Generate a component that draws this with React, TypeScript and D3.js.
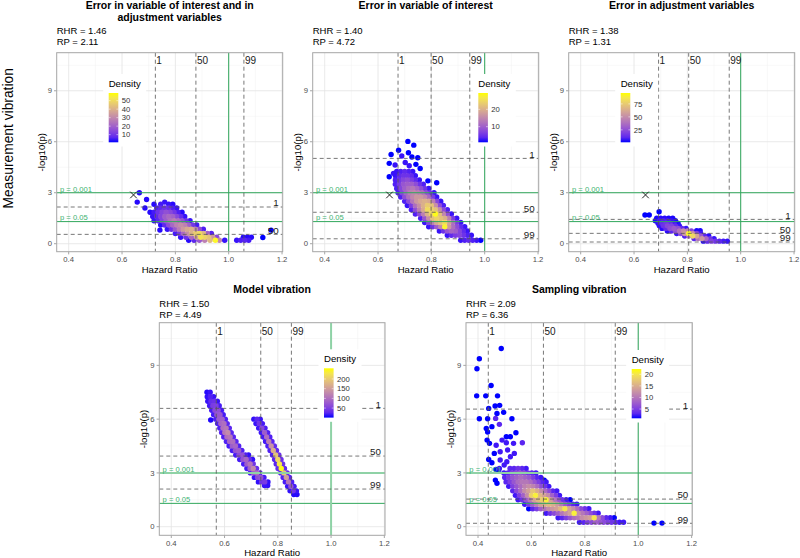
import * as d3 from "d3";

const FONT = "'Liberation Sans', Arial, Helvetica, sans-serif";

// ---- chart data ----
const panelTitles = [
  ["Error in variable of interest and in", "adjustment variables"],
  ["Error in variable of interest"],
  ["Error in adjustment variables"],
  ["Model vibration"],
  ["Sampling vibration"],
];
const rhrValues = ["1.46", "1.40", "1.38", "1.50", "2.09"];
const rpValues = ["2.11", "4.72", "1.31", "4.49", "6.36"];
const rowLabel = "Measurement vibration";

const xTicks = [0.4, 0.6, 0.8, 1.0, 1.2];
const xMinor = [0.5, 0.7, 0.9, 1.1];
const yTicks = [0, 3, 6, 9];
const yMinor = [1.5, 4.5, 7.5, 10.5];

const percentileNames = ["1", "50", "99"];
// hazard-ratio percentiles (vertical dashed lines)
const hrPercentiles = [
  [0.725, 0.877, 1.057],
  [0.675, 0.799, 0.944],
  [0.692, 0.805, 0.957],
  [0.569, 0.736, 0.851],
  [0.4385, 0.645, 0.914],
];
// -log10(p) percentiles (horizontal dashed lines)
const pPercentiles: (number | null)[][] = [
  [2.16, 0.55, null],
  [5.02, 1.85, 0.29],
  [1.43, 0.61, 0.1],
  [6.6, 3.94, 2.1],
  [6.56, 1.54, 0.19],
];
const pThresholds = [0.001, 0.05];
const originalEstimate = [0.643, 2.87]; // the "x" in the measurement panels

const densityMax = [59, 29.4, 96, 255, 22.3];
const legendTicks = [
  [10, 20, 30, 40, 50],
  [10, 20],
  [25, 50, 75],
  [50, 100, 150, 200],
  [5, 10, 15, 20],
];

// rows of points: [ -log10(p), hazard ratios, densities ]
type Row = [number, number[], number[]];

const pointsMeasBoth: Row[] = [
  [3.0, [0.665], [2]],
  [2.6, [0.692], [2]],
  [2.45, [0.657, 0.76], [2, 3]],
  [2.32, [0.72, 0.745, 0.775, 0.79], [2, 4, 3, 2]],
  [2.1, [0.686, 0.73, 0.745, 0.76, 0.775, 0.79, 0.805], [2, 5, 7, 9, 8, 5, 3]],
  [1.85, [0.705, 0.72, 0.735, 0.75, 0.765, 0.78, 0.795, 0.81, 0.825], [2, 4, 9, 13, 16, 14, 10, 5, 2]],
  [1.6, [0.715, 0.73, 0.745, 0.76, 0.775, 0.79, 0.805, 0.82, 0.835], [3, 7, 13, 19, 22, 20, 14, 8, 3]],
  [1.35, [0.72, 0.735, 0.75, 0.765, 0.78, 0.795, 0.81, 0.825, 0.84, 0.855], [3, 7, 13, 19, 24, 27, 23, 17, 9, 3]],
  [1.1, [0.745, 0.76, 0.775, 0.79, 0.805, 0.82, 0.835, 0.85, 0.865, 0.88], [2, 7, 15, 22, 28, 31, 28, 20, 10, 4]],
  [0.85, [0.77, 0.785, 0.8, 0.815, 0.83, 0.845, 0.86, 0.875, 0.89, 0.905], [3, 9, 18, 27, 34, 38, 40, 30, 15, 5]],
  [0.8, [0.742], [2]],
  [0.6, [0.8, 0.815, 0.83, 0.845, 0.86, 0.875, 0.89, 0.905, 0.92, 0.935], [4, 11, 22, 31, 40, 46, 50, 42, 20, 6]],
  [0.38, [0.82, 0.84, 0.86, 0.88, 0.895, 0.91, 0.925, 0.94, 0.955], [3, 9, 22, 36, 52, 48, 44, 34, 14]],
  [0.2, [0.85, 0.87, 0.89, 0.91, 0.93, 0.95, 0.965, 0.985], [2, 7, 18, 28, 42, 57, 30, 3]],
  [0.2, [1.03, 1.045, 1.06, 1.075], [3, 5, 6, 4]],
  [0.38, [1.055, 1.07, 1.085], [2, 2, 2]],
  [0.37, [1.128], [1]],
  [0.8, [1.159], [1]],
];

const pointsMeasInterest: Row[] = [
  [6.02, [0.712], [1]],
  [5.8, [0.734], [1]],
  [5.5, [0.677], [1]],
  [5.35, [0.714], [1]],
  [5.25, [0.649], [1]],
  [5.16, [0.689], [2]],
  [5.1, [0.727], [1]],
  [5.06, [0.749], [1]],
  [4.78, [0.702], [2]],
  [4.73, [0.642], [1]],
  [4.67, [0.742], [1]],
  [4.63, [0.664], [2]],
  [4.59, [0.717], [2]],
  [4.43, [0.758], [1]],
  [4.14, [0.658], [2]],
  [3.94, [0.642], [1]],
  [3.7, [0.787], [1]],
  [3.59, [0.82], [1]],
  [4.25, [0.67, 0.685, 0.7, 0.715, 0.73], [2, 3, 4, 3, 2]],
  [4.0, [0.665, 0.68, 0.695, 0.71, 0.725, 0.74], [2, 4, 5, 5, 4, 2]],
  [3.75, [0.665, 0.68, 0.695, 0.71, 0.725, 0.74, 0.755], [3, 5, 7, 8, 6, 4, 2]],
  [3.5, [0.665, 0.68, 0.695, 0.71, 0.725, 0.74, 0.755, 0.77], [3, 6, 9, 10, 10, 8, 5, 3]],
  [3.25, [0.67, 0.685, 0.7, 0.715, 0.73, 0.745, 0.76, 0.775, 0.79], [3, 7, 10, 12, 13, 11, 8, 5, 2]],
  [3.0, [0.675, 0.69, 0.705, 0.72, 0.735, 0.75, 0.765, 0.78, 0.795, 0.81], [3, 7, 11, 14, 15, 14, 12, 8, 5, 2]],
  [2.75, [0.685, 0.7, 0.715, 0.73, 0.745, 0.76, 0.775, 0.79, 0.805, 0.82], [3, 8, 12, 15, 17, 17, 15, 11, 6, 2]],
  [2.5, [0.7, 0.715, 0.73, 0.745, 0.76, 0.775, 0.79, 0.805, 0.82, 0.835], [3, 8, 13, 17, 19, 20, 19, 14, 7, 2]],
  [2.25, [0.71, 0.725, 0.74, 0.755, 0.77, 0.785, 0.8, 0.815, 0.83, 0.845], [2, 6, 12, 16, 20, 23, 22, 16, 8, 3]],
  [2.0, [0.725, 0.74, 0.755, 0.77, 0.785, 0.8, 0.815, 0.83, 0.845, 0.86], [3, 8, 14, 19, 25, 24, 22, 16, 8, 3]],
  [1.75, [0.74, 0.755, 0.77, 0.785, 0.8, 0.815, 0.83, 0.845, 0.86, 0.875], [3, 8, 14, 20, 24, 29, 22, 15, 8, 2]],
  [1.5, [0.76, 0.775, 0.79, 0.805, 0.82, 0.835, 0.85, 0.865, 0.88, 0.895], [3, 9, 16, 22, 24, 22, 20, 14, 6, 2]],
  [1.25, [0.775, 0.79, 0.805, 0.82, 0.835, 0.85, 0.865, 0.88, 0.895, 0.91], [2, 7, 14, 19, 22, 25, 18, 12, 6, 2]],
  [1.0, [0.79, 0.805, 0.82, 0.835, 0.85, 0.865, 0.88, 0.895, 0.91, 0.925], [2, 5, 10, 15, 28, 17, 12, 8, 4, 2]],
  [0.75, [0.83, 0.845, 0.86, 0.875, 0.89, 0.905, 0.92, 0.935], [2, 5, 9, 11, 10, 7, 4, 2]],
  [0.5, [0.86, 0.875, 0.89, 0.905, 0.92, 0.935, 0.95], [2, 4, 6, 7, 5, 3, 2]],
  [0.2, [0.91, 0.925, 0.94, 0.955, 0.97, 0.985], [2, 3, 4, 3, 2, 1]],
];

const pointsMeasAdjust: Row[] = [
  [1.88, [0.694], [1]],
  [1.69, [0.641, 0.657], [1, 1]],
  [1.5, [0.685, 0.7, 0.715, 0.73, 0.745], [2, 3, 3, 2, 2]],
  [1.35, [0.68, 0.695, 0.71, 0.725, 0.74, 0.755], [2, 6, 8, 6, 4, 2]],
  [1.2, [0.69, 0.705, 0.72, 0.735, 0.75, 0.765], [4, 12, 15, 12, 6, 2]],
  [1.05, [0.695, 0.71, 0.725, 0.74, 0.755, 0.77], [4, 14, 22, 20, 12, 4]],
  [0.9, [0.705, 0.72, 0.735, 0.75, 0.765, 0.78, 0.795], [3, 12, 25, 30, 25, 12, 4]],
  [0.76, [0.835, 0.848], [2, 2]],
  [0.75, [0.725, 0.74, 0.755, 0.77, 0.785, 0.8, 0.815], [3, 10, 25, 40, 50, 45, 20]],
  [0.6, [0.76, 0.775, 0.79, 0.805, 0.82, 0.835, 0.85], [5, 25, 55, 92, 50, 20, 5]],
  [0.45, [0.79, 0.805, 0.82, 0.835, 0.85, 0.865, 0.88], [8, 35, 80, 60, 30, 10, 3]],
  [0.3, [0.825, 0.84, 0.855, 0.87, 0.885, 0.9], [10, 40, 55, 35, 15, 4]],
  [0.15, [0.86, 0.875, 0.89, 0.905, 0.92, 0.935, 0.95], [3, 12, 20, 15, 10, 6, 4]],
];

const pointsModel: Row[] = [
  // first strip
  [7.5, [0.534, 0.546], [5, 10]],
  [7.25, [0.535, 0.547, 0.559], [8, 20, 10]],
  [7.0, [0.537, 0.549, 0.561, 0.573], [10, 30, 35, 10]],
  [6.75, [0.544, 0.556, 0.568, 0.58], [15, 45, 50, 15]],
  [6.5, [0.552, 0.564, 0.576, 0.588], [15, 60, 65, 15]],
  [6.25, [0.559, 0.571, 0.583, 0.595], [15, 70, 75, 15]],
  [5.95, [0.548], [4]],
  [6.0, [0.567, 0.579, 0.591, 0.603], [20, 80, 85, 20]],
  [5.75, [0.574, 0.586, 0.598, 0.61], [20, 90, 100, 25]],
  [5.5, [0.582, 0.594, 0.606, 0.618], [20, 100, 110, 25]],
  [5.25, [0.589, 0.601, 0.613, 0.625], [25, 110, 130, 25]],
  [5.0, [0.597, 0.609, 0.621, 0.633], [20, 100, 110, 25]],
  [4.75, [0.607, 0.619, 0.631, 0.643], [20, 90, 100, 25]],
  [4.5, [0.617, 0.629, 0.641, 0.653], [15, 80, 90, 20]],
  [4.25, [0.629, 0.641, 0.653, 0.665], [15, 70, 80, 20]],
  [4.0, [0.642, 0.654, 0.666, 0.678, 0.69], [15, 60, 70, 20, 8]],
  [3.75, [0.657, 0.669, 0.681, 0.693, 0.705], [15, 70, 90, 30, 8]],
  [3.5, [0.672, 0.684, 0.696, 0.708], [15, 80, 110, 40]],
  [3.25, [0.684, 0.696, 0.708, 0.72], [15, 90, 130, 35]],
  [3.0, [0.697, 0.709, 0.721, 0.733], [15, 80, 100, 25]],
  [2.75, [0.712, 0.724, 0.736, 0.748], [10, 60, 70, 15]],
  [2.5, [0.727, 0.739, 0.751, 0.763], [8, 40, 45, 8]],
  [2.3, [0.75, 0.762], [10, 8]],
  // second strip
  [6.0, [0.71, 0.722, 0.734], [8, 25, 10]],
  [5.75, [0.718, 0.73, 0.742], [10, 40, 15]],
  [5.5, [0.728, 0.74, 0.752], [12, 60, 18]],
  [5.25, [0.738, 0.75, 0.762], [12, 80, 20]],
  [5.0, [0.746, 0.758, 0.77], [15, 100, 20]],
  [4.75, [0.754, 0.766, 0.778], [15, 120, 25]],
  [4.5, [0.763, 0.775, 0.787], [18, 140, 30]],
  [4.25, [0.771, 0.783, 0.795], [20, 170, 30]],
  [4.0, [0.78, 0.792, 0.804], [20, 190, 35]],
  [3.75, [0.788, 0.8, 0.812], [25, 210, 35]],
  [3.5, [0.794, 0.806, 0.818], [25, 230, 35]],
  [3.25, [0.801, 0.813, 0.825], [30, 250, 30]],
  [3.0, [0.811, 0.823, 0.835], [25, 200, 30]],
  [2.75, [0.82, 0.832, 0.844], [20, 150, 25]],
  [2.5, [0.828, 0.84, 0.852], [15, 110, 20]],
  [2.25, [0.837, 0.849, 0.861], [10, 70, 15]],
  [2.0, [0.846, 0.858, 0.87], [8, 40, 10]],
  [1.8, [0.86, 0.872], [5, 5]],
];

const pointsSampling: Row[] = [
  [9.94, [0.487], [1]],
  [9.37, [0.405], [1]],
  [8.81, [0.396], [1]],
  [7.88, [0.449], [1]],
  [7.3, [0.395, 0.429, 0.473], [1, 1, 1]],
  [6.77, [0.481], [1]],
  [6.73, [0.464], [1]],
  [6.6, [0.44], [1]],
  [6.38, [0.496], [1]],
  [6.32, [0.471], [1]],
  [6.04, [0.466], [3]],
  [6.02, [0.405, 0.436, 0.527], [1, 1, 1]],
  [5.71, [0.48], [3]],
  [5.58, [0.452], [1]],
  [5.48, [0.431], [1]],
  [5.28, [0.436], [1]],
  [5.24, [0.542], [1]],
  [5.02, [0.506, 0.521], [1, 1]],
  [4.83, [0.434, 0.49], [1, 2]],
  [4.68, [0.506, 0.566], [2, 3]],
  [4.65, [0.443, 0.533], [1, 2]],
  [4.54, [0.468], [2]],
  [4.28, [0.511], [2]],
  [4.18, [0.483], [2]],
  [4.09, [0.461, 0.536], [1, 2]],
  [3.9, [0.521], [2]],
  [3.75, [0.44], [1]],
  [3.72, [0.483], [2]],
  [3.62, [0.508], [2]],
  [3.57, [0.452], [1]],
  [3.44, [0.498], [2]],
  [3.2, [0.467], [1]],
  [3.16, [0.477], [1]],
  [2.6, [0.465, 0.648], [1, 1]],
  [2.42, [0.471], [1]],
  [3.25, [0.48, 0.52, 0.535, 0.55, 0.565, 0.58], [2, 3, 3, 4, 3, 2]],
  [3.0, [0.497, 0.512, 0.527, 0.542, 0.557, 0.572, 0.587, 0.602, 0.617], [2, 3, 5, 6, 7, 6, 4, 3, 2]],
  [2.75, [0.5, 0.515, 0.53, 0.545, 0.56, 0.575, 0.59, 0.605, 0.62, 0.635], [3, 5, 7, 8, 9, 8, 7, 5, 3, 2]],
  [2.5, [0.505, 0.52, 0.535, 0.55, 0.565, 0.58, 0.595, 0.61, 0.625, 0.64, 0.655], [3, 5, 7, 9, 10, 10, 9, 7, 5, 3, 2]],
  [2.25, [0.515, 0.53, 0.545, 0.56, 0.575, 0.59, 0.605, 0.62, 0.635, 0.65, 0.665], [2, 5, 7, 9, 11, 12, 11, 9, 6, 4, 2]],
  [2.0, [0.53, 0.545, 0.56, 0.575, 0.59, 0.605, 0.62, 0.635, 0.65, 0.665, 0.68, 0.695], [3, 6, 9, 12, 14, 17, 15, 12, 9, 6, 3, 2]],
  [1.75, [0.54, 0.555, 0.57, 0.585, 0.6, 0.615, 0.63, 0.645, 0.66, 0.675, 0.69, 0.705], [2, 5, 8, 12, 18, 21, 16, 14, 12, 8, 5, 2]],
  [1.5, [0.55, 0.565, 0.58, 0.595, 0.61, 0.625, 0.64, 0.655, 0.67, 0.685, 0.7, 0.715, 0.73, 0.745], [2, 4, 7, 10, 14, 16, 18, 21, 14, 10, 7, 4, 2, 1]],
  [1.25, [0.575, 0.59, 0.605, 0.62, 0.635, 0.65, 0.665, 0.68, 0.695, 0.71, 0.725, 0.74, 0.755, 0.77], [2, 5, 8, 11, 14, 15, 16, 15, 13, 10, 7, 5, 3, 2]],
  [1.0, [0.59, 0.605, 0.62, 0.635, 0.65, 0.665, 0.68, 0.695, 0.71, 0.725, 0.74, 0.755, 0.77, 0.785, 0.8, 0.815], [1, 3, 5, 8, 10, 12, 13, 14, 16, 20, 14, 12, 9, 6, 4, 2]],
  [0.75, [0.655, 0.67, 0.685, 0.7, 0.715, 0.73, 0.745, 0.76, 0.775, 0.79, 0.805, 0.82, 0.835, 0.85], [2, 4, 6, 8, 10, 12, 14, 21, 12, 10, 8, 6, 4, 2]],
  [0.5, [0.7, 0.715, 0.73, 0.745, 0.76, 0.775, 0.79, 0.805, 0.82, 0.835, 0.85, 0.865, 0.88, 0.895, 0.91], [2, 3, 5, 7, 9, 10, 12, 13, 14, 20, 10, 6, 3, 2, 1]],
  [0.25, [0.78, 0.795, 0.81, 0.825, 0.84, 0.855, 0.87, 0.885, 0.9, 0.915, 0.93, 0.945], [2, 3, 5, 6, 8, 7, 6, 5, 4, 3, 2, 2]],
  [0.2, [1.059, 1.089], [1, 1]],
];

const panelPoints = [pointsMeasBoth, pointsMeasInterest, pointsMeasAdjust, pointsModel, pointsSampling];

// ---- layout ----
const W = 800;
const H = 558;
const xDomain = [0.355, 1.2025];
const layout = [
  { left: 56.7, top: 52.7, width: 226, height: 199, yDomain: [-0.47, 11.24], legDx: 52, legDy: 40.3, labDy: 10.8 },
  { left: 312.7, top: 52.7, width: 226, height: 199, yDomain: [-0.47, 11.24], legDx: 165.6, legDy: 40.3, labDy: 10.8 },
  { left: 568.7, top: 52.7, width: 226, height: 199, yDomain: [-0.47, 11.24], legDx: 52, legDy: 40.3, labDy: 10.8 },
  { left: 159.3, top: 322.7, width: 225.7, height: 212.6, yDomain: [-0.48, 11.38], legDx: 164.7, legDy: 45.6, labDy: 12.3 },
  { left: 466, top: 322.7, width: 226.3, height: 212.6, yDomain: [-0.48, 11.38], legDx: 165.7, legDy: 46.3, labDy: 12.3 },
];
const GREEN = "#31a75c";
const GREEN_LIGHT = "#8fd2a6";
// which green lines are drawn light and wide: [p=0.001, p=0.05, HR=1]
const lightGreen = [
  [false, false, false],
  [false, false, false],
  [false, false, false],
  [true, false, true],
  [true, false, false],
];

const colorInterp = d3.interpolateLab("blue", "yellow");

function Panel({ i }: { i: number }) {
  const L = layout[i];
  const x = d3.scaleLinear().domain(xDomain).range([L.left, L.left + L.width]);
  const y = d3.scaleLinear().domain(L.yDomain).range([L.top + L.height, L.top]);
  const color = d3.scaleSequential(colorInterp).domain([1, densityMax[i]]);
  const right = L.left + L.width;
  const bottom = L.top + L.height;
  const cx = L.left + L.width / 2;

  const pts = panelPoints[i]
    .flatMap(([py, hrs, ds]) => hrs.map((hr, k) => ({ hr, p: py, d: ds[k] })))
    .sort((a, b) => a.d - b.d);

  const barX = L.left + L.legDx;
  const barY = L.top + L.legDy;
  const barH = 49.3;
  const legY = d3.scaleLinear().domain([1, densityMax[i]]).range([barY + barH, barY]);
  const gradId = `grad${i}`;
  const stops = d3.range(0, 1.0001, 0.1);

  const isTop = i < 3;
  const titleBase = isTop ? 9.3 : 292.8;
  const subBase = isTop ? 34.3 : 306.6;
  const greens = lightGreen[i];

  return (
    <g>
      <defs>
        <linearGradient id={gradId} x1="0" y1="1" x2="0" y2="0">
          {stops.map((s) => (
            <stop key={s} offset={s} stopColor={colorInterp(s)} />
          ))}
        </linearGradient>
        <clipPath id={`clip${i}`}>
          <rect x={L.left} y={L.top} width={L.width} height={L.height} />
        </clipPath>
      </defs>

      {/* titles */}
      {panelTitles[i].map((t, k) => (
        <text key={k} x={cx} y={titleBase + k * 11.2} textAnchor="middle" fontSize={10.5} fontWeight="bold" fill="#000">
          {t}
        </text>
      ))}
      <text x={L.left} y={subBase} fontSize={9.5} fill="#000">{`RHR = ${rhrValues[i]}`}</text>
      <text x={L.left} y={subBase + 11} fontSize={9.5} fill="#000">{`RP = ${rpValues[i]}`}</text>

      {/* panel background and grid */}
      <rect x={L.left} y={L.top} width={L.width} height={L.height} fill="#fff" />
      {xMinor.map((v) => (
        <line key={`xm${v}`} x1={x(v)} x2={x(v)} y1={L.top} y2={bottom} stroke="#f0f0f0" strokeWidth={0.5} />
      ))}
      {yMinor.map((v) => (
        <line key={`ym${v}`} x1={L.left} x2={right} y1={y(v)} y2={y(v)} stroke="#f0f0f0" strokeWidth={0.5} />
      ))}
      {xTicks.map((v) => (
        <line key={`xg${v}`} x1={x(v)} x2={x(v)} y1={L.top} y2={bottom} stroke="#e3e3e3" strokeWidth={0.8} />
      ))}
      {yTicks.map((v) => (
        <line key={`yg${v}`} x1={L.left} x2={right} y1={y(v)} y2={y(v)} stroke="#e3e3e3" strokeWidth={0.8} />
      ))}

      <g clipPath={`url(#clip${i})`}>
        {/* points */}
        {pts.map((d, k) => (
          <circle key={k} cx={x(d.hr)} cy={y(d.p)} r={2.7} fill={color(d.d)} />
        ))}

        {/* significance lines */}
        {pThresholds.map((p, k) => (
          <line
            key={`pt${p}`}
            x1={L.left}
            x2={right}
            y1={y(-Math.log10(p))}
            y2={y(-Math.log10(p))}
            stroke={greens[k] ? GREEN_LIGHT : GREEN}
            strokeWidth={greens[k] ? 2 : 1}
          />
        ))}
        <line
          x1={x(1)}
          x2={x(1)}
          y1={L.top}
          y2={bottom}
          stroke={greens[2] ? GREEN_LIGHT : GREEN}
          strokeWidth={greens[2] ? 2 : 1}
        />

        {/* percentile lines */}
        {hrPercentiles[i].map((v, k) => (
          <line key={`hp${k}`} x1={x(v)} x2={x(v)} y1={L.top} y2={bottom} stroke="#555" strokeWidth={0.8} strokeDasharray="4,3" />
        ))}
        {pPercentiles[i].map((v, k) =>
          v === null ? null : (
            <line key={`pp${k}`} x1={L.left} x2={right} y1={y(v)} y2={y(v)} stroke="#555" strokeWidth={0.8} strokeDasharray="4,3" />
          )
        )}
      </g>

      {/* labels for thresholds */}
      {pThresholds.map((p) => (
        <text key={`pl${p}`} x={L.left + 3.3} y={y(-Math.log10(p)) - 1.2} fontSize={7.6} fill="#3cb371">
          {`p = ${p}`}
        </text>
      ))}
      {hrPercentiles[i].map((v, k) => (
        <text key={`hl${k}`} x={x(v) + 1} y={L.top + L.labDy} fontSize={10} fill="#1a1a1a">
          {percentileNames[k]}
        </text>
      ))}
      {pPercentiles[i].map((v, k) =>
        v === null ? null : (
          <text key={`ql${k}`} x={right - 4} y={y(v) - 0.6} textAnchor="end" fontSize={9.8} fill="#1a1a1a">
            {percentileNames[k]}
          </text>
        )
      )}

      {/* original estimate */}
      {isTop && (
        <g stroke="#222" strokeWidth={1}>
          <line x1={x(originalEstimate[0]) - 3.3} x2={x(originalEstimate[0]) + 3.3} y1={y(originalEstimate[1]) - 3.3} y2={y(originalEstimate[1]) + 3.3} />
          <line x1={x(originalEstimate[0]) - 3.3} x2={x(originalEstimate[0]) + 3.3} y1={y(originalEstimate[1]) + 3.3} y2={y(originalEstimate[1]) - 3.3} />
        </g>
      )}

      {/* legend */}
      <rect x={barX - 5.5} y={barY - 19} width={43} height={72.5} fill="#fff" />
      <text x={barX} y={barY - 6} fontSize={9.6} fill="#000">Density</text>
      <rect x={barX} y={barY} width={9.6} height={barH} fill={`url(#${gradId})`} />
      {legendTicks[i].map((t) => (
        <g key={`lt${t}`}>
          <line x1={barX} x2={barX + 1.9} y1={legY(t)} y2={legY(t)} stroke="#fff" strokeWidth={0.5} />
          <line x1={barX + 7.7} x2={barX + 9.6} y1={legY(t)} y2={legY(t)} stroke="#fff" strokeWidth={0.5} />
          <text x={barX + 13} y={legY(t)} dy="0.35em" fontSize={7.7} fill="#333">{t}</text>
        </g>
      ))}

      {/* frame and axes */}
      <rect x={L.left} y={L.top} width={L.width} height={L.height} fill="none" stroke="#a6a6a6" strokeWidth={1} />
      {xTicks.map((v) => (
        <g key={`xt${v}`}>
          <line x1={x(v)} x2={x(v)} y1={bottom} y2={bottom + 2.7} stroke="#a6a6a6" />
          <text x={x(v)} y={bottom + 10.3} textAnchor="middle" fontSize={7.7} fill="#4d4d4d">{v.toFixed(1)}</text>
        </g>
      ))}
      {yTicks.map((v) => (
        <g key={`yt${v}`}>
          <line x1={L.left - 2.7} x2={L.left} y1={y(v)} y2={y(v)} stroke="#a6a6a6" />
          <text x={L.left - 4.7} y={y(v)} dy="0.35em" textAnchor="end" fontSize={7.7} fill="#4d4d4d">{v}</text>
        </g>
      ))}
      <text x={cx} y={bottom + 20.8} textAnchor="middle" fontSize={9.6} fill="#000">Hazard Ratio</text>
      <text
        transform={`translate(${L.left - 12.2},${L.top + L.height / 2}) rotate(-90)`}
        textAnchor="middle"
        fontSize={9.6}
        fill="#000"
      >
        -log10(p)
      </text>
    </g>
  );
}

export default function App() {
  return (
    <svg
      width={W}
      height={H}
      style={{ position: "absolute", left: 0, top: 0, background: "#fff" }}
      fontFamily={FONT}
    >
      <rect width={W} height={H} fill="#fff" />
      <text transform="translate(13.3,138.3) rotate(-90)" textAnchor="middle" fontSize={13.8} fill="#000">
        {rowLabel}
      </text>
      {layout.map((_, i) => (
        <Panel key={i} i={i} />
      ))}
    </svg>
  );
}
